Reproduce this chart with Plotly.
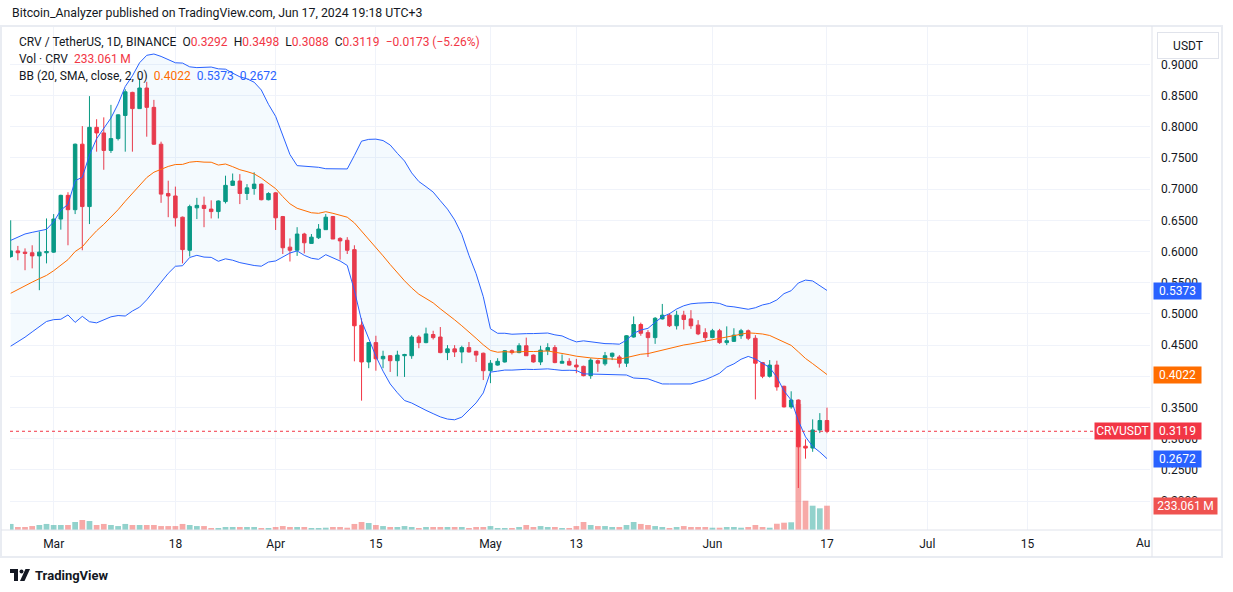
"""CRV / TetherUS daily candles with volume and Bollinger Bands, TradingView look."""

import pandas as pd
import plotly.graph_objects as go

# ---- values, one per day from Feb 24 to Jun 17, 2024 ----
open_ = [
    0.592, 0.601, 0.599, 0.598, 0.593, 0.598,
    0.599, 0.652, 0.690, 0.667, 0.772, 0.672, 0.799, 0.790, 0.762, 0.781,
    0.818, 0.855, 0.829, 0.862, 0.831, 0.772, 0.693, 0.689, 0.655, 0.602,
    0.670, 0.674, 0.668, 0.664, 0.680, 0.706, 0.713, 0.693, 0.701, 0.708, 0.683,
    0.694, 0.656, 0.607, 0.602, 0.628, 0.613, 0.622, 0.635, 0.656, 0.621,
    0.618, 0.603, 0.482, 0.423, 0.454, 0.428, 0.433, 0.425, 0.433, 0.433,
    0.463, 0.454, 0.467, 0.463, 0.438, 0.444, 0.439, 0.446, 0.440, 0.437,
    0.409, 0.418, 0.423, 0.441, 0.438, 0.449, 0.434, 0.423, 0.441, 0.446,
    0.421, 0.424, 0.418, 0.416, 0.401, 0.425, 0.420, 0.432, 0.431, 0.421,
    0.463, 0.483, 0.470, 0.462, 0.492, 0.498, 0.481, 0.498, 0.492, 0.482, 0.470,
    0.462, 0.473, 0.454, 0.456, 0.465, 0.473, 0.461, 0.422, 0.400, 0.418,
    0.384, 0.351, 0.362, 0.288, 0.285, 0.314, 0.3292,
]
high = [
    0.650, 0.609, 0.605, 0.610, 0.632, 0.653,
    0.660, 0.691, 0.695, 0.773, 0.801, 0.849, 0.812, 0.815, 0.835, 0.820,
    0.860, 0.856, 0.8775, 0.872, 0.843, 0.776, 0.7135, 0.704, 0.656, 0.675,
    0.686, 0.688, 0.682, 0.682, 0.7215, 0.725, 0.724, 0.708, 0.727, 0.709, 0.695,
    0.695, 0.657, 0.621, 0.639, 0.630, 0.628, 0.644, 0.660, 0.657, 0.623,
    0.623, 0.610, 0.493, 0.455, 0.465, 0.441, 0.434, 0.441, 0.436, 0.466,
    0.466, 0.478, 0.473, 0.479, 0.450, 0.450, 0.449, 0.455, 0.441, 0.438,
    0.426, 0.429, 0.442, 0.443, 0.453, 0.462, 0.435, 0.449, 0.453, 0.450,
    0.435, 0.429, 0.428, 0.417, 0.429, 0.427, 0.439, 0.438, 0.434, 0.466,
    0.496, 0.486, 0.474, 0.495, 0.516, 0.501, 0.505, 0.505, 0.506, 0.490, 0.477,
    0.476, 0.476, 0.480, 0.477, 0.476, 0.475, 0.466, 0.423, 0.426, 0.425,
    0.385, 0.376, 0.363, 0.299, 0.331, 0.341, 0.3498,
]
low = [
    0.590, 0.586, 0.570, 0.573, 0.538, 0.581,
    0.598, 0.635, 0.610, 0.660, 0.602, 0.644, 0.760, 0.731, 0.758, 0.778,
    0.760, 0.760, 0.829, 0.784, 0.771, 0.678, 0.655, 0.640, 0.581, 0.592,
    0.652, 0.639, 0.653, 0.653, 0.677, 0.705, 0.676, 0.6825, 0.691, 0.682, 0.682,
    0.6345, 0.596, 0.584, 0.593, 0.597, 0.613, 0.620, 0.635, 0.620, 0.587,
    0.596, 0.424, 0.361, 0.413, 0.409, 0.413, 0.407, 0.400, 0.399, 0.428,
    0.445, 0.453, 0.459, 0.437, 0.426, 0.431, 0.421, 0.438, 0.423, 0.394,
    0.389, 0.417, 0.422, 0.435, 0.437, 0.433, 0.422, 0.418, 0.434, 0.421,
    0.421, 0.417, 0.405, 0.400, 0.396, 0.407, 0.417, 0.426, 0.414, 0.415,
    0.462, 0.465, 0.431, 0.452, 0.491, 0.479, 0.475, 0.475, 0.476, 0.466, 0.456,
    0.461, 0.452, 0.450, 0.455, 0.460, 0.458, 0.363, 0.397, 0.398, 0.377,
    0.350, 0.348, 0.221, 0.268, 0.279, 0.309, 0.3088,
]
close = [
    0.601, 0.598, 0.597, 0.593, 0.599, 0.600,
    0.652, 0.690, 0.667, 0.772, 0.672, 0.799, 0.790, 0.762, 0.781, 0.819,
    0.856, 0.829, 0.862, 0.831, 0.772, 0.692, 0.689, 0.654, 0.603, 0.672,
    0.674, 0.669, 0.664, 0.681, 0.706, 0.713, 0.693, 0.702, 0.708, 0.683, 0.693,
    0.654, 0.606, 0.602, 0.628, 0.614, 0.623, 0.636, 0.655, 0.620, 0.617,
    0.602, 0.481, 0.423, 0.454, 0.428, 0.432, 0.425, 0.434, 0.435, 0.463,
    0.454, 0.468, 0.462, 0.438, 0.444, 0.439, 0.446, 0.439, 0.434, 0.409,
    0.421, 0.424, 0.441, 0.438, 0.449, 0.433, 0.423, 0.442, 0.446, 0.422,
    0.424, 0.418, 0.415, 0.401, 0.426, 0.421, 0.433, 0.437, 0.421, 0.465,
    0.483, 0.469, 0.462, 0.493, 0.498, 0.481, 0.498, 0.491, 0.481, 0.468, 0.462,
    0.473, 0.454, 0.457, 0.466, 0.473, 0.461, 0.421, 0.400, 0.418, 0.383,
    0.351, 0.362, 0.287, 0.285, 0.314, 0.3292, 0.3119,
]
# daily volume, millions of CRV
volume = [
    58, 29, 29, 38, 48, 58,
    48, 48, 48, 77, 96, 86, 48, 58, 48, 38,
    58, 48, 48, 48, 48, 38, 38, 38, 58, 48,
    38, 38, 19, 19, 29, 29, 29, 29, 29, 19, 19,
    29, 38, 29, 29, 29, 19, 19, 22, 29, 29,
    22, 58, 77, 67, 48, 38, 29, 29, 38, 29,
    19, 29, 29, 29, 29, 29, 29, 19, 29, 29,
    38, 19, 19, 19, 29, 48, 29, 38, 29, 29,
    19, 19, 38, 77, 48, 38, 38, 29, 29, 48,
    77, 58, 48, 38, 29, 19, 29, 38, 29, 29, 29,
    22, 22, 29, 29, 22, 29, 48, 29, 22, 60,
    70, 74, 1208, 281, 233, 208, 233.061,
]

# closes Feb 5 - Feb 23 (off screen), only there to warm up the 20-day bands
prior_close = [
    0.470, 0.478, 0.482, 0.488, 0.496, 0.502, 0.497, 0.505, 0.512, 0.520,
    0.530, 0.545, 0.556, 0.560, 0.571, 0.585, 0.578, 0.590, 0.595,
]

# band values as printed in the chart's legend
bb_readout = {"basis": 0.4022, "upper": 0.5373, "lower": 0.2672}

x_ticks = [
    "2024-03-01", "2024-03-18", "2024-04-01", "2024-04-15", "2024-05-01",
    "2024-05-13", "2024-06-01", "2024-06-17", "2024-07-01", "2024-07-15",
]
x_tick_labels = ["Mar", "18", "Apr", "15", "May", "13", "Jun", "17", "Jul", "15"]
price_ticks = [0.20, 0.25, 0.30, 0.35, 0.40, 0.45, 0.50, 0.55,
               0.60, 0.65, 0.70, 0.75, 0.80, 0.85, 0.90]

UP = "#089981"
DOWN = "#f23645"
VOL_UP = "rgba(38,166,154,0.5)"
VOL_DOWN = "rgba(239,83,80,0.5)"
BLUE = "#2962ff"
ORANGE = "#ff6d00"
TEXT = "#131722"
GRID = "#f0f3fa"
BORDER = "#e0e3eb"
FONT = "Roboto, 'Noto Sans', sans-serif"

W, H = 1233, 592
PANE_L, PANE_R, PANE_T, PANE_B = 10, 1150, 27, 530


def px_x(px):
    return (px - PANE_L) / (PANE_R - PANE_L)


def px_y(py):
    return (PANE_B - py) / (PANE_B - PANE_T)


dates = pd.date_range("2024-02-24", periods=len(close), freq="D")

# Bollinger Bands (20, SMA, close, 2)
closes_all = pd.Series(prior_close + close)
basis_all = closes_all.rolling(20).mean()
dev_all = closes_all.rolling(20).std(ddof=0)
n_prior = len(prior_close)
bb_basis = basis_all[n_prior:].to_numpy()
bb_upper = (basis_all + 2 * dev_all)[n_prior:].to_numpy()
bb_lower = (basis_all - 2 * dev_all)[n_prior:].to_numpy()

vol_colors = [VOL_UP if c >= o else VOL_DOWN for o, c in zip(open_, close)]

fig = go.Figure()
fig.add_trace(go.Bar(
    x=dates, y=volume, yaxis="y",
    marker=dict(color=vol_colors, line=dict(width=0)),
    width=0.8 * 86400000,
    hoverinfo="skip",
))
fig.add_trace(go.Scatter(
    x=dates, y=bb_upper, yaxis="y2", mode="lines",
    line=dict(color=BLUE, width=1), hoverinfo="skip",
))
fig.add_trace(go.Scatter(
    x=dates, y=bb_lower, yaxis="y2", mode="lines",
    line=dict(color=BLUE, width=1), fill="tonexty",
    fillcolor="rgba(33,150,243,0.05)", hoverinfo="skip",
))
fig.add_trace(go.Scatter(
    x=dates, y=bb_basis, yaxis="y2", mode="lines",
    line=dict(color=ORANGE, width=1), hoverinfo="skip",
))
fig.add_trace(go.Candlestick(
    x=dates, open=open_, high=high, low=low, close=close, yaxis="y2",
    increasing=dict(line=dict(color=UP, width=1), fillcolor=UP),
    decreasing=dict(line=dict(color=DOWN, width=1), fillcolor=DOWN),
    whiskerwidth=0,
))

# ---- legend text at the top left ----
last_o, last_h, last_l, last_c = open_[-1], high[-1], low[-1], close[-1]
change = last_c - close[-2]
change_pct = change / close[-2] * 100


def red(s):
    return f"<span style='color:{DOWN}'>{s}</span>"


sp = "\u2002"
line1 = (
    f"CRV / TetherUS, 1D, BINANCE{sp}"
    f"O{red(f'{last_o:.4f}')}{sp}H{red(f'{last_h:.4f}')}{sp}"
    f"L{red(f'{last_l:.4f}')}{sp}C{red(f'{last_c:.4f}')}{sp}"
    + red(f"{change:.4f} ({change_pct:.2f}%)".replace("-", "\u2212"))
)
line2 = f"Vol · CRV{sp}" + red(f"{volume[-1]:.3f}\u2009M")
line3 = (
    f"BB (20, SMA, close, 2, 0){sp}"
    f"<span style='color:{ORANGE}'>{bb_readout['basis']:.4f}</span>{sp}"
    f"<span style='color:{BLUE}'>{bb_readout['upper']:.4f}</span>{sp}"
    f"<span style='color:{BLUE}'>{bb_readout['lower']:.4f}</span>"
)

annotations = [
    dict(x=px_x(10), y=px_y(13), text="Bitcoin_Analyzer published on TradingView.com, Jun 17, 2024 19:18 UTC+3",
         font=dict(size=12.3, color=TEXT)),
    dict(x=px_x(17), y=px_y(42), text=line1, font=dict(size=12, color=TEXT)),
    dict(x=px_x(17), y=px_y(59), text=line2, font=dict(size=12, color=TEXT)),
    dict(x=px_x(17), y=px_y(76), text=line3, font=dict(size=12, color=TEXT)),
    dict(x=px_x(1152), y=px_y(543), text="Au", xanchor="right", font=dict(size=12, color=TEXT)),
    dict(x=px_x(33), y=px_y(575), text="<b>TradingView</b>", font=dict(size=13, color=TEXT)),
    # USDT currency box over the top of the price scale
    dict(x=px_x(1188), y=px_y(45), text="USDT", xanchor="center",
         font=dict(size=12, color=TEXT), bgcolor="white",
         bordercolor=BORDER, borderwidth=1, borderpad=1, width=58, height=23),
]
for a in annotations:
    a.update(xref="paper", yref="paper", showarrow=False, yanchor="middle")
    a.setdefault("xanchor", "left")


def badge(value, text, color, yref="y2", width=45, left=1153, anchor="left"):
    return dict(
        x=px_x(left), xref="paper", xanchor=anchor, y=value, yref=yref,
        yanchor="middle", text=text, showarrow=False,
        font=dict(size=12, color="white"), bgcolor=color,
        width=width, height=14, borderpad=1, align="center",
    )


annotations += [
    badge(bb_readout["upper"], f"{bb_readout['upper']:.4f}", BLUE),
    badge(bb_readout["basis"], f"{bb_readout['basis']:.4f}", ORANGE),
    badge(last_c, f"{last_c:.4f}", DOWN),
    badge(last_c, "CRVUSDT", DOWN, width=53, left=1151, anchor="right"),
    badge(bb_readout["lower"], f"{bb_readout['lower']:.4f}", BLUE),
    badge(volume[-1], f"{volume[-1]:.3f}\u2009M", "#ef5350", yref="y", width=61),
]


def rect(x0, y0, x1, y1, **kw):
    return dict(type="rect", xref="paper", yref="paper",
                x0=px_x(x0), x1=px_x(x1), y0=px_y(y0), y1=px_y(y1), **kw)


def line(x0, y0, x1, y1, color=BORDER, width=1):
    return dict(type="line", xref="paper", yref="paper",
                x0=px_x(x0), x1=px_x(x1), y0=px_y(y0), y1=px_y(y1),
                line=dict(color=color, width=width))


logo = dict(line=dict(width=0), fillcolor=TEXT)
shapes = [
    rect(1, 26, 1222, 557, line=dict(color="#e9ecf2", width=2)),
    line(1152, 26, 1152, 557),
    line(1, 530, 1222, 530),
    # last price line
    dict(type="line", xref="paper", yref="y2", x0=0, x1=1, y0=last_c, y1=last_c,
         line=dict(color=DOWN, width=1, dash="dot")),
    # TradingView logo mark
    rect(10, 569, 18, 573, **logo),
    rect(14, 569, 18, 581, **logo),
    dict(type="circle", xref="paper", yref="paper", x0=px_x(19.5), x1=px_x(23.5),
         y0=px_y(569.5), y1=px_y(573.5), **logo),
    dict(type="path", xref="paper", yref="paper",
         path=(f"M {px_x(20)},{px_y(581)} L {px_x(25.5)},{px_y(569)} "
               f"L {px_x(30)},{px_y(569)} L {px_x(24.5)},{px_y(581)} Z"),
         **logo),
]

fig.update_layout(
    width=W, height=H,
    margin=dict(l=PANE_L, r=W - PANE_R, t=PANE_T, b=H - PANE_B, pad=0),
    paper_bgcolor="white", plot_bgcolor="white",
    font=dict(family=FONT, color=TEXT, size=12),
    showlegend=False, hovermode=False, dragmode=False,
    xaxis=dict(
        type="date",
        range=["2024-02-23 21:40", "2024-08-01 02:40"],
        tickvals=x_ticks, ticktext=x_tick_labels,
        showgrid=True, gridcolor=GRID, gridwidth=1,
        zeroline=False, showline=False, ticks="",
        ticklabelstandoff=5,
        tickfont=dict(size=12, color=TEXT),
        rangeslider=dict(visible=False),
        fixedrange=True,
    ),
    yaxis=dict(
        range=[0, 4824], visible=False, showgrid=False, fixedrange=True,
    ),
    yaxis2=dict(
        overlaying="y", side="right", anchor="x",
        range=[0.1537, 0.9598],
        tickvals=price_ticks, tickformat=".4f",
        showgrid=True, gridcolor=GRID, gridwidth=1,
        zeroline=False, showline=False, ticks="",
        ticklabelstandoff=10,
        tickfont=dict(size=12, color=TEXT),
        fixedrange=True,
    ),
    annotations=annotations,
    shapes=shapes,
)

fig.write_html(
    "out.html",
    config={"displayModeBar": False, "staticPlot": True},
    post_script="document.body.style.margin='0';",
)
